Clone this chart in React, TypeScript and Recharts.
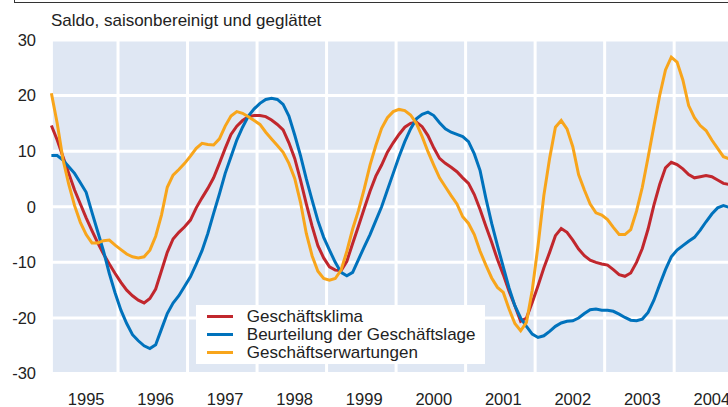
import { LineChart, Line, XAxis, YAxis, CartesianGrid } from "recharts";

// Monatswerte ab Januar 1995 (Index 0) bis Oktober 2004
const YEARS = ["1995", "1996", "1997", "1998", "1999", "2000", "2001", "2002", "2003", "2004"];
const YEAR_TICKS = [6, 18, 30, 42, 54, 66, 78, 90, 102, 114];
const YEAR_BOUNDS = [11.5, 23.5, 35.5, 47.5, 59.5, 71.5, 83.5, 95.5, 107.5];
const Y_TICKS = [-30, -20, -10, 0, 10, 20, 30];

const KLIMA = [
    14.6, 12.0, 9.0, 6.0, 3.0, 0.5, -2.0, -4.3, -6.5, -8.5, -10.3, -12.0,
    -13.6, -15.0, -16.0, -16.8, -17.3, -16.5, -14.8, -11.5, -8.2, -5.8, -4.6, -3.6,
    -2.4, -0.2, 1.6, 3.3, 5.2, 7.8, 10.5, 13.0, 14.5, 15.5, 16.2, 16.4,
    16.4, 16.2, 15.6, 14.8, 13.8, 11.5, 8.7, 4.8, 0.5, -3.5, -7.0, -9.2,
    -10.8, -11.4, -11.5, -9.8, -6.6, -3.5, -0.3, 2.8, 5.5, 7.5, 9.8, 11.5,
    13.0, 14.3, 15.0, 15.2, 14.4, 12.8, 10.6, 8.7, 7.8, 7.1, 6.3, 5.2,
    4.2, 2.2, -0.5, -3.5, -6.4, -9.5, -12.2, -15.2, -17.8, -20.6, -20.0, -17.2,
    -14.2, -11.0, -8.2, -5.2, -3.9, -4.6, -6.0, -7.6, -8.8, -9.6, -10.0, -10.3,
    -10.5, -11.3, -12.2, -12.5, -11.9, -10.0, -7.5, -4.0, 0.3, 4.0, 7.0, 8.0,
    7.6, 6.8, 5.8, 5.2, 5.4, 5.6, 5.4, 4.8, 4.2, 4.0,
];

const LAGE = [
    9.2, 9.2, 8.4, 7.2, 6.0, 4.3, 2.6, -1.0, -4.5, -8.0, -12.0, -15.5,
    -18.6, -21.0, -23.0, -24.1, -25.0, -25.5, -24.8, -22.0, -19.2, -17.3, -16.0, -14.3,
    -12.6, -10.3, -7.9, -4.8, -1.2, 2.3, 6.0, 9.0, 12.0, 14.3, 16.3, 17.6,
    18.6, 19.3, 19.5, 19.3, 18.4, 16.3, 12.9, 9.2, 5.0, 1.2, -2.5, -5.5,
    -7.8, -10.0, -11.8, -12.4, -11.8, -9.5, -7.2, -5.0, -2.5, 0.0, 3.0, 6.0,
    9.0, 11.7, 14.0, 15.8, 16.6, 17.0, 16.4, 15.1, 14.0, 13.4, 13.0, 12.6,
    11.7, 9.5, 6.5, 1.5, -3.0, -7.0, -10.8, -14.6, -17.8, -20.0, -21.5, -22.9,
    -23.5, -23.2, -22.4, -21.5, -20.9, -20.6, -20.5, -20.0, -19.2, -18.5, -18.4, -18.6,
    -18.6, -18.8, -19.3, -19.9, -20.4, -20.5, -20.2, -19.0, -16.8, -14.0, -11.3, -9.0,
    -7.8, -7.0, -6.2, -5.5, -4.2, -2.7, -1.3, -0.2, 0.2, -0.1,
];

const ERWARTUNGEN = [
    20.4, 15.0, 8.5, 4.0, 0.2, -2.8, -5.0, -6.5, -6.5, -6.1, -6.0, -6.9,
    -7.7, -8.5, -9.0, -9.2, -9.0, -7.8, -5.3, -1.5, 3.5, 5.7, 6.7, 7.8,
    9.1, 10.5, 11.4, 11.2, 11.1, 12.2, 14.5, 16.3, 17.1, 16.8, 16.2, 15.5,
    14.8, 13.4, 12.2, 11.0, 9.8, 7.8, 5.1, 0.8, -4.8, -8.8, -11.6, -12.9,
    -13.2, -12.9, -11.4, -8.0, -4.0, -0.7, 3.2, 7.5, 11.0, 14.1, 16.0, 17.1,
    17.5, 17.3, 16.5, 15.0, 12.6, 9.9, 7.5, 5.2, 3.6, 2.0, 0.5, -1.8,
    -3.0, -5.0, -8.0, -10.5, -12.8, -14.5, -15.4, -18.4, -21.0, -22.3, -20.8, -15.0,
    -7.0, 2.0, 8.7, 14.3, 15.5, 14.0, 10.8, 5.8, 3.0, 0.5, -1.1, -1.5,
    -2.3, -3.7, -5.0, -5.0, -4.1, -0.8, 3.5, 8.9, 14.5, 20.0, 24.6, 26.9,
    26.0, 22.8, 18.2, 16.0, 14.6, 13.7, 12.0, 10.5, 9.0, 8.6,
];

const SERIES = [
    { key: "klima", name: "Geschäftsklima", color: "#c1272d" },
    { key: "lage", name: "Beurteilung der Geschäftslage", color: "#0072bc" },
    { key: "erw", name: "Geschäftserwartungen", color: "#f8a51b" },
];

const data = KLIMA.map((v, i) => ({
    m: i,
    klima: v,
    lage: LAGE[i],
    erw: ERWARTUNGEN[i],
}));

const FONT = "'Liberation Sans', Arial, sans-serif";
const TEXT = "#222";

function ChartLegend() {
    return (
        <div style={{ position: "absolute", left: 196, top: 305, background: "#fff", width: 289, height: 59, boxSizing: "border-box", paddingTop: 3 }}>
            {SERIES.map((s) => (
                <div key={s.key} style={{ display: "flex", alignItems: "center", height: 17.8 }}>
                    <span style={{ display: "inline-block", width: 25.5, height: 3, background: s.color, marginLeft: 11.3, marginRight: 14 }} />
                    <span style={{ fontSize: 17, color: TEXT, lineHeight: "17.8px", whiteSpace: "nowrap" }}>{s.name}</span>
                </div>
            ))}
        </div>
    );
}

export default function App() {
    return (
        <div style={{ position: "fixed", left: 0, top: 0, width: 728, height: 407, overflow: "hidden", background: "#fff", fontFamily: FONT }}>
            <div style={{ position: "absolute", left: 14, top: 0, width: 714, height: 2, borderLeft: "1px solid #333", borderBottom: "1px solid #333" }} />
            <div style={{ position: "absolute", left: 51, top: 12.3, fontSize: 17, lineHeight: "17px", color: TEXT, whiteSpace: "nowrap" }}>
                Saldo, saisonbereinigt und geglättet
            </div>
            <div style={{ position: "absolute", left: 0, top: 0 }}>
                <LineChart width={735} height={407} data={data} margin={{ top: 39.9, right: 0, bottom: 0, left: 0 }}>
                    <CartesianGrid xAxisId="grid" stroke="#fff" strokeWidth={3} fill="#dfe7f3" fillOpacity={1} />
                    <XAxis
                        dataKey="m"
                        type="number"
                        domain={[0, 118]}
                        ticks={YEAR_TICKS}
                        tickFormatter={(v: number) => YEARS[Math.round((v - 6) / 12)]}
                        axisLine={false}
                        tickLine={false}
                        tickMargin={13.7}
                        height={33.4}
                        interval={0}
                        tick={{ fontSize: 16.5, fill: TEXT, fontFamily: FONT }}
                    />
                    <XAxis xAxisId="grid" dataKey="m" type="number" domain={[0, 118]} ticks={YEAR_BOUNDS} hide />
                    <YAxis
                        type="number"
                        domain={[-30, 30]}
                        ticks={Y_TICKS}
                        axisLine={false}
                        tickLine={false}
                        tickMargin={9.4}
                        width={51.4}
                        interval={0}
                        tick={{ fontSize: 16.5, fill: TEXT, fontFamily: FONT }}
                    />
                    {SERIES.map((s) => (
                        <Line
                            key={s.key}
                            type="linear"
                            dataKey={s.key}
                            name={s.name}
                            stroke={s.color}
                            strokeWidth={3}
                            dot={false}
                            activeDot={false}
                            isAnimationActive={false}
                        />
                    ))}
                </LineChart>
            </div>
            <ChartLegend />
        </div>
    );
}
